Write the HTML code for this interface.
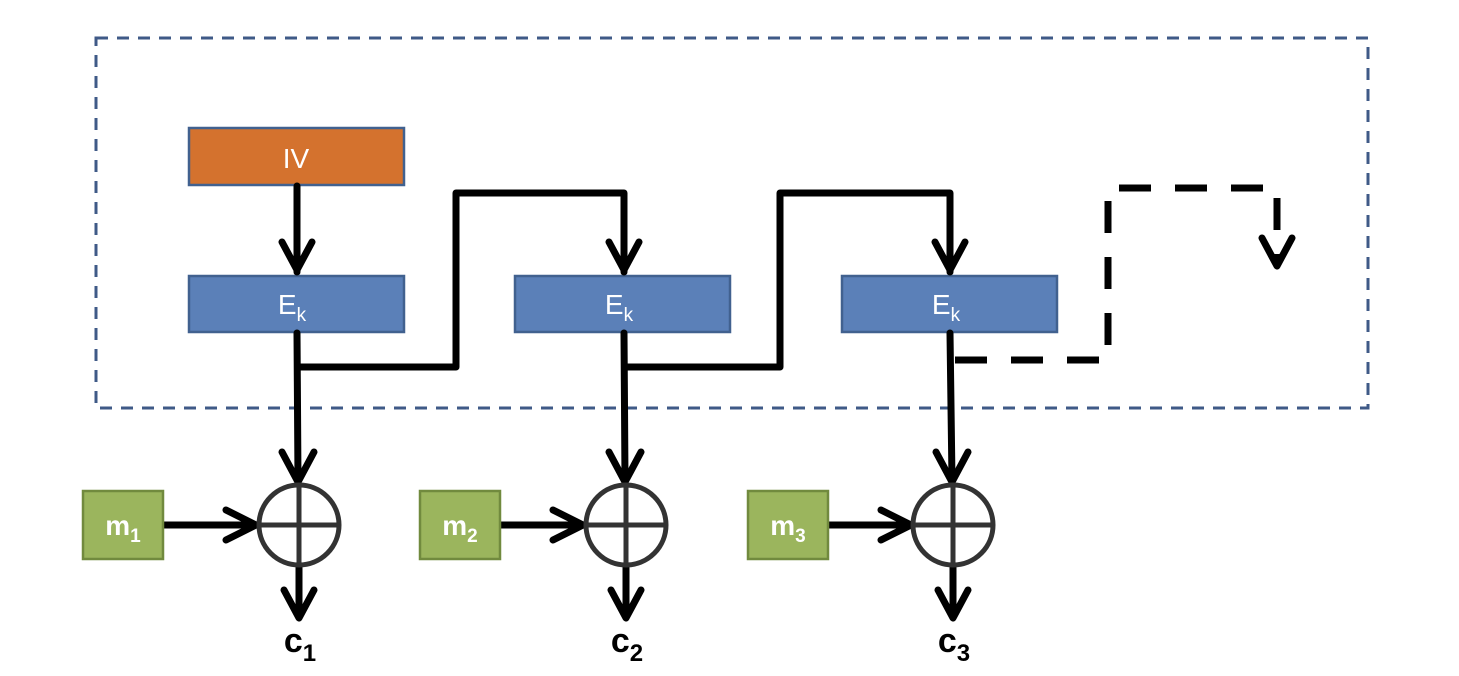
<!DOCTYPE html>
<html><head><style>body{margin:0;background:#fff}svg{display:block}</style></head><body>
<svg width="1459" height="676" xmlns="http://www.w3.org/2000/svg" font-family="Liberation Sans, sans-serif">
<rect x="96" y="38" width="1272" height="370" fill="none" stroke="#3f5a87" stroke-width="3" stroke-dasharray="12,9"/>
<rect x="189" y="128" width="215" height="57" fill="#d4722e" stroke="#41618f" stroke-width="2.5"/>
<text x="296" y="168" fill="#fff" font-size="28" text-anchor="middle">IV</text>
<g fill="#5b80b8" stroke="#41618f" stroke-width="2.5">
<rect x="189" y="276" width="215" height="56"/><rect x="515" y="276" width="215" height="56"/><rect x="842" y="276" width="215" height="56"/>
</g>
<g fill="#fff" font-size="28" text-anchor="middle">
<text x="292" y="314">E<tspan font-size="19" dy="7">k</tspan></text>
<text x="619" y="314">E<tspan font-size="19" dy="7">k</tspan></text>
<text x="946" y="314">E<tspan font-size="19" dy="7">k</tspan></text>
</g>
<g stroke="#000" stroke-width="7" fill="none" stroke-linejoin="round" stroke-linecap="round">
<line x1="297" y1="186" x2="297" y2="272"/><polyline points="282,242 297,270 312,242"/>
<polyline points="297,333 298,480"/><polyline points="282,452 298,482 314,452"/>
<polyline points="298,367 456,367 456,193 624,193 624,272"/><polyline points="609,242 624,270 639,242"/>
<polyline points="624,333 625,480"/><polyline points="609,452 625,482 641,452"/>
<polyline points="625,367 780,367 780,193 950,193 950,272"/><polyline points="935,242 950,270 965,242"/>
<polyline points="950,333 952,480"/><polyline points="936,452 952,482 968,452"/>
<line x1="164" y1="525" x2="250" y2="525"/><polyline points="226,510 256,525 226,540"/>
<line x1="500" y1="525" x2="578" y2="525"/><polyline points="553,510 583,525 553,540"/>
<line x1="829" y1="525" x2="905" y2="525"/><polyline points="881,510 911,525 881,540"/>
<line x1="299" y1="566" x2="299" y2="612"/><polyline points="284,590 299,618 314,590"/>
<line x1="626" y1="566" x2="626" y2="612"/><polyline points="611,590 626,618 641,590"/>
<line x1="953" y1="566" x2="953" y2="612"/><polyline points="938,590 953,618 968,590"/>
<polyline points="955,360 1108,360 1108,188 1277,188 1277,262" stroke-dasharray="32,24" stroke-linecap="butt"/>
<polyline points="1262,238 1277,266 1292,238"/>
</g>
<g stroke="#333" stroke-width="5" fill="#fff">
<circle cx="299" cy="525" r="40"/><line x1="299" y1="485" x2="299" y2="565"/><line x1="259" y1="525" x2="339" y2="525"/>
<circle cx="626" cy="525" r="40"/><line x1="626" y1="485" x2="626" y2="565"/><line x1="586" y1="525" x2="666" y2="525"/>
<circle cx="953" cy="525" r="40"/><line x1="953" y1="485" x2="953" y2="565"/><line x1="913" y1="525" x2="993" y2="525"/>
</g>
<g fill="#9bb55d" stroke="#718a3e" stroke-width="2.5">
<rect x="83" y="491" width="80" height="68"/><rect x="420" y="491" width="80" height="68"/><rect x="748" y="491" width="80" height="68"/>
</g>
<g fill="#fff" font-size="28" font-weight="bold" text-anchor="middle">
<text x="123" y="535">m<tspan font-size="19" dy="7">1</tspan></text>
<text x="460" y="535">m<tspan font-size="19" dy="7">2</tspan></text>
<text x="788" y="535">m<tspan font-size="19" dy="7">3</tspan></text>
</g>
<g fill="#000" font-size="34" font-weight="bold" text-anchor="middle">
<text x="300" y="652">c<tspan font-size="24" dy="9">1</tspan></text>
<text x="627" y="652">c<tspan font-size="24" dy="9">2</tspan></text>
<text x="954" y="652">c<tspan font-size="24" dy="9">3</tspan></text>
</g>
</svg>
</body></html>
